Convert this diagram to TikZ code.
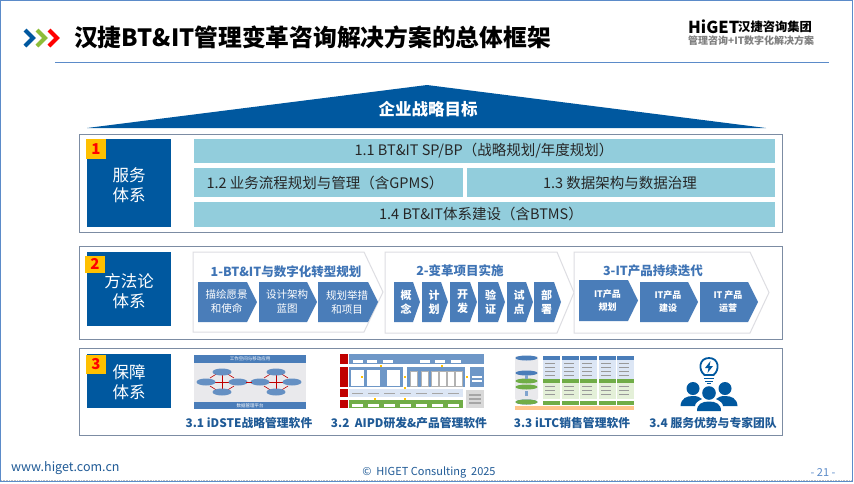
\documentclass[tikz,border=0pt]{standalone}
\usepackage{fontspec}
\setmainfont{Noto Sans CJK SC}
\usetikzlibrary{shapes.geometric}
\definecolor{navy}{HTML}{00589F}
\definecolor{teal}{HTML}{92CDDC}
\definecolor{chevblue}{HTML}{4A7DB9}
\definecolor{gold}{HTML}{FFC000}
\definecolor{framec}{HTML}{7C8CA3}
\definecolor{outl}{HTML}{DDDDE2}
\definecolor{secblue}{HTML}{3F74B5}
\definecolor{capblue}{HTML}{1F5A96}
\definecolor{edge}{HTML}{5B8BC9}
\definecolor{lblue}{HTML}{DCE6F5}
\definecolor{lgreen}{HTML}{E4F0D8}
\definecolor{green1}{HTML}{70AD47}
\definecolor{red1}{HTML}{C00000}
\definecolor{pgray}{HTML}{E9E9EC}
\tikzset{
  frame/.style={draw=framec,line width=1pt,fill=white},
  bluebox/.style={fill=navy},
  lab/.style={text=white,font=\fontsize{16.5}{20}\selectfont,align=center,inner sep=0pt},
  badge/.style={fill=gold,text=red,font=\fontsize{15}{15}\selectfont\bfseries,inner sep=0pt},
  bar/.style={fill=teal},
  bartext/.style={text=black!85,font=\fontsize{14.5}{16}\selectfont,inner sep=0pt},
  bigc/.style={draw=outl,line width=1pt,fill=white},
  smallc/.style={fill=chevblue},
  ctext/.style={text=white,font=\fontsize{10.5}{14}\selectfont,align=center,inner sep=0pt},
  cbold/.style={text=white,font=\fontsize{11}{14}\selectfont\bfseries,align=center,inner sep=0pt},
  itb/.style={text=white,font=\fontsize{9}{13}\selectfont\bfseries,align=center,inner sep=0pt},
  sect/.style={text=secblue,font=\fontsize{12.5}{14}\selectfont\bfseries,inner sep=0pt},
  captext/.style={text=capblue,font=\fontsize{11.8}{13}\selectfont\bfseries,inner sep=0pt},
  mini/.style={text=white,font=\fontsize{4.5}{5}\selectfont,inner sep=0pt},
  oval/.style={fill=chevblue!85,ellipse,minimum width=19pt,minimum height=7pt,inner sep=0pt},
  hdr/.style={line width=4pt,miter limit=10},
}
% name x1 x2 shoulder y1 y2 style
\newcommand\chevshape[7]{\path[#7] (#2,#5) -- (#4,#5) -- (#3,{(#5+#6)/2}) -- (#4,#6) -- (#2,#6) -- cycle;
  \coordinate (#1) at ({(#2+#3)/2-1},{(#5+#6)/2});}
\newcommand\rect[5]{\path[#5] (#1,#2) rectangle (#3,#4);}
\begin{document}
\begin{tikzpicture}[x=1pt,y=-1pt]
\useasboundingbox (0,0) rectangle (854,483);
\fill[white] (0,0) rectangle (854,483);
\draw[edge,line width=1pt] (0.7,0.7) rectangle (852.5,481.5);
\draw[gray!50,line width=.6pt,densely dotted] (1,479.8) -- (852,479.8);
% header
\draw[navy,hdr] (25,30) -- (33,38) -- (25,46);
\draw[green1!80!yellow,hdr] (37,30) -- (45,38) -- (37,46);
\draw[red,hdr] (49,30) -- (57,38) -- (49,46);
\node[anchor=west,inner sep=0pt,font=\fontsize{23.75}{28}\selectfont\bfseries] (title) at (74,37) {汉捷BT\&IT管理变革咨询解决方案的总体框架};
\draw[edge,line width=.7pt] (55,62) -- (829,62);
\node[anchor=west,inner sep=0pt,font=\fontsize{16.5}{18}\selectfont\bfseries] (logoa) at (688,27) {HiGET};
\node[anchor=west,inner sep=0pt,font=\fontsize{12.3}{14}\selectfont\bfseries] (logob) at (738,27) {汉捷咨询集团};
\node[anchor=west,inner sep=0pt,text=gray,font=\fontsize{10}{12}\selectfont\bfseries] (logoc) at (688,41) {管理咨询+IT数字化解决方案};
% goal triangle
\fill[navy] (87,128) -- (427,85) -- (766,128) -- cycle;
\node[text=white,inner sep=0pt,font=\fontsize{16.5}{18}\selectfont\bfseries] (goal) at (428,109) {企业战略目标};
% frames
\rect{79}{134}{782}{232}{frame}
\rect{79}{246}{782}{339}{frame}
\rect{79}{348}{782}{435}{frame}
% section 1
\rect{87}{139}{171}{227}{bluebox}
\node[lab] (l1) at (129,185) {服务\\体系};
\node[badge,minimum width=20pt,minimum height=20pt] (b1) at (96,149) {1};
\rect{194}{139}{775}{163}{bar}
\rect{194}{168}{463}{197}{bar}
\rect{467}{168}{775}{197}{bar}
\rect{194}{202}{775}{227}{bar}
\node[bartext] (s11) at (484,151) {1.1 BT\&IT SP/BP（战略规划/年度规划）};
\node[bartext] (s12) at (325,183) {1.2 业务流程规划与管理（含GPMS）};
\node[bartext] (s13) at (620,183) {1.3 数据架构与数据治理};
\node[bartext] (s14) at (481,214) {1.4 BT\&IT体系建设（含BTMS）};
% section 2
\rect{87}{252}{171}{326}{bluebox}
\node[lab] (l2) at (129,291) {方法论\\体系};
\node[badge,minimum width=20pt,minimum height=17pt] (b2) at (95,264) {2};
\chevshape{g1}{193}{383}{364}{252}{332}{bigc}
\chevshape{g2}{385}{574}{557}{252}{333}{bigc}
\chevshape{g3}{574}{769}{750}{252}{333}{bigc}
\node[sect] (t1) at (286,272) {1-BT\&IT与数字化转型规划};
\node[sect] (t2) at (460,271) {2-变革项目实施};
\node[sect] (t3) at (653,271) {3-IT产品持续迭代};
\chevshape{a1}{198}{257}{247}{282}{322}{smallc}
\chevshape{a2}{259}{317}{307}{282}{322}{smallc}
\chevshape{a3}{318}{378}{368}{282}{322}{smallc}
\node[ctext] at (a1) {描绘愿景\\和使命};
\node[ctext] at (a2) {设计架构\\蓝图};
\node[ctext] at (a3) {规划举措\\和项目};
\chevshape{c1}{394}{420}{413}{282}{322}{smallc}
\chevshape{c2}{422}{448}{441}{282}{322}{smallc}
\chevshape{c3}{450}{477}{470}{282}{322}{smallc}
\chevshape{c4}{478}{505}{498}{282}{322}{smallc}
\chevshape{c5}{507}{533}{526}{282}{322}{smallc}
\chevshape{c6}{534}{561}{554}{282}{322}{smallc}
\node[cbold] at (c1) {概\\念};
\node[cbold] at (c2) {计\\划};
\node[cbold] at (c3) {开\\发};
\node[cbold] at (c4) {验\\证};
\node[cbold] at (c5) {试\\点};
\node[cbold] at (c6) {部\\署};
\chevshape{d1}{579}{638}{628}{280}{321}{smallc}
\chevshape{d2}{640}{698}{688}{282}{322}{smallc}
\chevshape{d3}{700}{758}{748}{282}{322}{smallc}
\node[itb] at (d1) {IT产品\\规划};
\node[itb] at (d2) {IT产品\\建设};
\node[itb] at (d3) {IT 产品\\运营};
% section 3
\rect{87}{354}{171}{408}{bluebox}
\node[lab] (l3) at (129,382) {保障\\体系};
\node[badge,minimum width=20pt,minimum height=19pt] (b3) at (96,364.5) {3};
% 3.1 picture
\rect{194}{355}{306}{409}{fill=pgray}
\rect{194}{355}{306}{363}{fill=chevblue}
\rect{194}{402}{306}{409}{fill=chevblue}
\node[mini] (m1) at (250,359) {工作空间与移动应用};
\node[mini] (m2) at (250,405.5) {数据管理平台};
\foreach \cx in {222,276}{
  \draw[red1,line width=.9pt] (\cx,374) -- (\cx,390) (\cx-14,382) -- (\cx+14,382);
  \draw[red1,line width=.6pt] (\cx-12,378) -- (\cx-4,373) (\cx+12,378) -- (\cx+4,373) (\cx-12,386) -- (\cx-4,391) (\cx+12,386) -- (\cx+4,391);
  \node[oval] at (\cx,372) {};
  \node[oval] at (\cx,392) {};
  \node[oval] at (\cx-16,382) {};
  \node[oval] at (\cx+16,382) {};
}
\draw[red1,line width=.9pt] (246,382) -- (252,382);
% 3.2 picture
\rect{340}{354}{348}{364}{fill=red1}
\rect{340}{367}{348}{387}{fill=red1}
\rect{340}{389}{348}{397}{fill=red1}
\rect{340}{400}{348}{408}{fill=red1}
\rect{349}{354}{484}{364}{fill=chevblue!80}
\foreach \x in {358,372,388,425,440,456}{\rect{\x-5}{359.5}{\x+5}{362.5}{fill=white}}
\rect{349}{367}{403}{387}{fill=chevblue!80}
\rect{407}{367}{465}{387}{fill=chevblue!80}
\rect{470}{367}{484}{387}{fill=chevblue!80}
\foreach \x in {351,367,387}{\rect{\x}{370}{\x+13}{386}{fill=white}}
\foreach \x in {410,421,431,439,447,455}{\rect{\x}{371}{\x+7}{386}{fill=white,draw=gray!60,line width=.2pt}}
\rect{472}{376}{482}{378}{fill=white}
\rect{472}{380}{482}{382}{fill=white}
\rect{349}{389}{463}{397}{fill=lblue}
\foreach \x in {352,368,384,400,416,432,448}{\rect{\x}{392.5}{\x+11}{394}{fill=gray!70}}
\rect{349}{400}{463}{408}{fill=green1}
\foreach \x in {352,368,384,400,416,432,448}{\rect{\x}{404}{\x+11}{407}{fill=white}}
\rect{466}{390}{484}{408}{fill=gray!30}
\foreach \y in {394,398,402}{\rect{469}{\y}{481}{\y+1.5}{fill=gray!70}}
\foreach \x/\y in {381/365.5,442/365.5,362/376.5,404.5/377,467/377,375/398.5,405/388,405/398.5}{\fill[gold] (\x-1,\y-1) rectangle (\x+1,\y+1);}
% 3.3 picture
\rect{515}{356}{538}{400}{fill=pgray,rounded corners=2pt}
\foreach \y in {356,371,400}{\node[fill=chevblue,ellipse,minimum width=22pt,minimum height=5pt,inner sep=0pt] at (526.5,\y+2) {};}
\foreach \y in {381,387,402}{\node[fill=green1,ellipse,minimum width=22pt,minimum height=5pt,inner sep=0pt] at (526.5,\y) {};}
\fill[chevblue!70] (525,375) rectangle (528,379);
\fill[chevblue!70] (525,391) rectangle (528,396);
\foreach \x in {543,562,580,599,617}{
  \rect{\x}{356}{\x+17}{360}{fill=chevblue}
  \rect{\x}{360}{\x+17}{379}{fill=lblue}
  \rect{\x}{379}{\x+17}{383}{fill=green1}
  \rect{\x}{383}{\x+17}{399}{fill=lgreen}
  \rect{\x}{401}{\x+17}{405}{fill=green1}
  \foreach \y in {363,367,371,375,386,390,394}{\draw[gray!80,line width=.5pt] (\x+2,\y) -- (\x+12,\y);}
}
\rect{515}{406}{634}{410}{fill=orange!45}
% 3.4 icon
\draw[navy,line width=1.8pt] (704.5,375) .. controls (698,370) and (699,358) .. (709,358) .. controls (719,358) and (720,370) .. (713.5,375) -- cycle;
\fill[navy] (710.5,361) -- (705,368) -- (708.5,368) -- (707.5,373) -- (713,366) -- (709.5,366) -- cycle;
\draw[navy,line width=1pt] (704,378.5) -- (714,378.5) (705,381) -- (713,381) (707,383.5) -- (711,383.5);
\fill[navy] (693,388.5) circle[radius=6.5];
\fill[navy] (725,388.5) circle[radius=6.5];
\fill[navy] (680.5,406) .. controls (681,398) and (687,396) .. (693,396) .. controls (697,396) and (700,397) .. (702,399) .. controls (698,401) and (695,403) .. (695,406) -- cycle;
\fill[navy] (737.5,406) .. controls (737,398) and (731,396) .. (725,396) .. controls (721,396) and (718,397) .. (716,399) .. controls (720,401) and (723,403) .. (723,406) -- cycle;
\fill[navy] (709,393) circle[radius=6.8];
\fill[navy] (697,411) .. controls (697,404) and (702,401.5) .. (709,401.5) .. controls (716,401.5) and (721,404) .. (721,411) -- cycle;
% captions
\node[captext] (k1) at (249,423) {3.1 iDSTE战略管理软件};
\node[captext] (k2) at (409,423) {3.2 \ AIPD研发\&产品管理软件};
\node[captext] (k3) at (572,423) {3.3 iLTC销售管理软件};
\node[captext] (k4) at (713,423) {3.4 服务优势与专家团队};
% footer
\node[anchor=west,inner sep=0pt,text=capblue,font=\fontsize{12.5}{14}\selectfont] (web) at (11,468) {www.higet.com.cn};
\node[inner sep=0pt,text=capblue,font=\fontsize{11}{13}\selectfont] (copy) at (429,472) {©\ \ HIGET Consulting\ \ 2025};
\node[inner sep=0pt,text=edge,font=\fontsize{11}{13}\selectfont] (page) at (823,472) {- 21 -};
\end{tikzpicture}
\end{document}
